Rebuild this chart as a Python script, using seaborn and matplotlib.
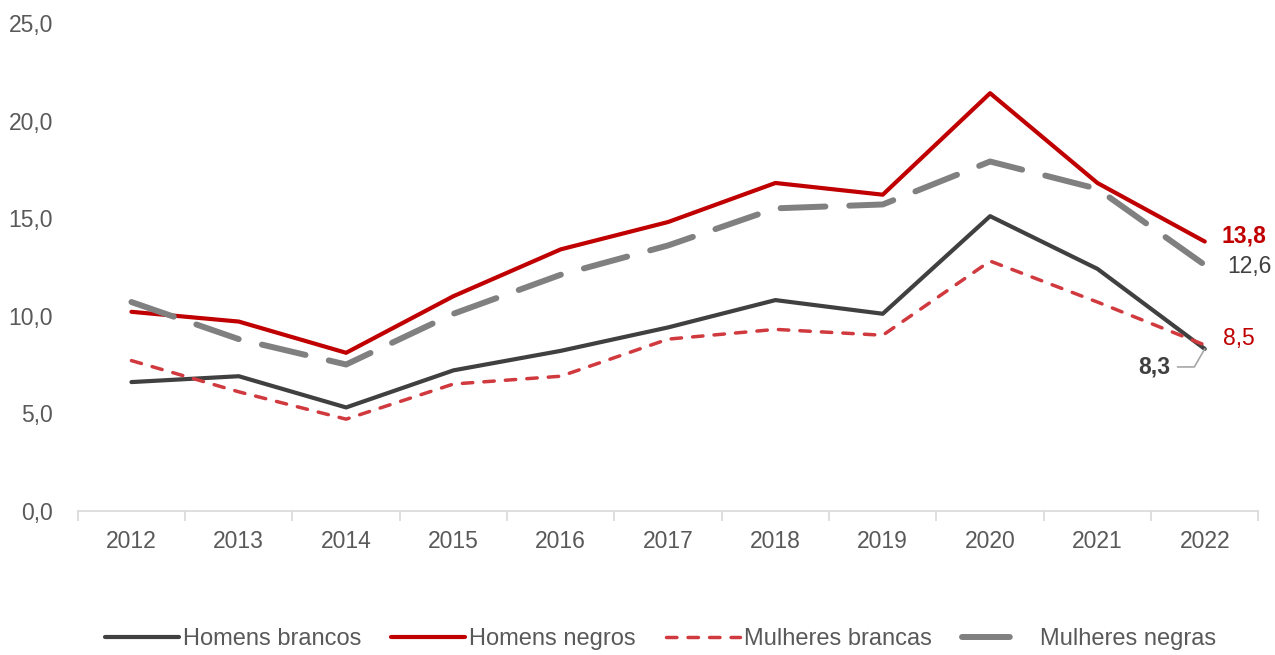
import numpy as np
import pandas as pd
import matplotlib
matplotlib.use("Agg")
import matplotlib.pyplot as plt
import seaborn as sns
from matplotlib.lines import Line2D
from matplotlib.ticker import FixedLocator, FuncFormatter

anos = ["2012", "2013", "2014", "2015", "2016", "2017", "2018", "2019", "2020", "2021", "2022"]
homens_brancos = [6.6, 6.9, 5.3, 7.2, 8.2, 9.4, 10.8, 10.1, 15.1, 12.4, 8.3]
homens_negros = [10.2, 9.7, 8.1, 11.0, 13.4, 14.8, 16.8, 16.2, 21.4, 16.8, 13.8]
mulheres_brancas = [7.7, 6.1, 4.7, 6.5, 6.9, 8.8, 9.3, 9.0, 12.8, 10.7, 8.5]
mulheres_negras = [10.7, 8.8, 7.5, 10.1, 12.1, 13.6, 15.5, 15.7, 17.9, 16.5, 12.6]

sns.set_style("white")
plt.rcParams["font.family"] = ["Liberation Sans", "DejaVu Sans"]

fig = plt.figure(figsize=(12.75, 6.55), dpi=100)
ax = fig.add_axes([0.061, 0.22, 0.926, 0.745])

x = np.arange(len(anos))
series = [
    ("Homens brancos", homens_brancos, "#404040", 3.0, None),
    ("Homens negros", homens_negros, "#C00000", 3.0, None),
    ("Mulheres brancas", mulheres_brancas, "#D0393E", 2.5, (3.0, 3.2)),
    ("Mulheres negras", mulheres_negras, "#808080", 4.3, (7.5, 4.0)),
]
handles = []
for nome, vals, cor, lw, dash in series:
    df = pd.DataFrame({"x": x, "y": vals})
    sns.lineplot(data=df, x="x", y="y", ax=ax, color=cor, linewidth=lw, legend=False)
    ln = ax.get_lines()[-1]
    if dash is not None:
        ln.set_dashes(dash)
    ln.set_solid_capstyle("round")
    ln.set_dash_capstyle("round")
    h = Line2D([], [], color=cor, linewidth=lw, solid_capstyle="round", dash_capstyle="round")
    if dash is not None:
        h.set_dashes(dash if nome != "Mulheres negras" else (8, 20))
    handles.append(h)

ax.set_xlim(-0.5, len(anos) - 0.5)
ax.set_ylim(0, 25)
ax.set_xticks(x)
ax.set_xticklabels(anos)
ax.xaxis.set_minor_locator(FixedLocator(np.arange(-0.5, len(anos), 1)))
ax.tick_params(axis="x", which="major", length=0, pad=14, labelsize=16.5, labelcolor="#595959")
ax.tick_params(axis="x", which="minor", bottom=True, length=7, color="#D9D9D9", width=1.2)
ax.set_yticks(np.arange(0, 26, 5))
ax.yaxis.set_major_formatter(FuncFormatter(lambda v, p: f"{v:.1f}".replace(".", ",")))
ax.tick_params(axis="y", length=0, pad=18, labelsize=16.5, labelcolor="#595959")
for s in ["top", "right", "left"]:
    ax.spines[s].set_visible(False)
ax.spines["bottom"].set_color("#D9D9D9")
ax.spines["bottom"].set_linewidth(1.2)
ax.set_xlabel("")
ax.set_ylabel("")

last = len(anos) - 1
def fmt(v):
    return f"{v:.1f}".replace(".", ",")

ax.annotate(fmt(homens_negros[-1]), (last, homens_negros[-1]), xytext=(12, 4),
            textcoords="offset points", fontsize=16.5, fontweight="bold", color="#C00000",
            va="center", ha="left")
ax.annotate(fmt(mulheres_negras[-1]), (last, mulheres_negras[-1]), xytext=(16, -1),
            textcoords="offset points", fontsize=16.5, color="#404040", va="center", ha="left")
ax.annotate(fmt(mulheres_brancas[-1]), (last, mulheres_brancas[-1]), xytext=(13, 5),
            textcoords="offset points", fontsize=16.5, color="#C00000", va="center", ha="left")
ax.annotate(fmt(homens_brancos[-1]), (last, homens_brancos[-1]), xytext=(-25, -13),
            textcoords="offset points", fontsize=16.5, fontweight="bold", color="#404040",
            va="center", ha="right",
            arrowprops=dict(arrowstyle="-", color="#A6A6A6", lw=1.2,
                            connectionstyle="angle,angleA=0,angleB=60,rad=0",
                            shrinkA=3, shrinkB=0))

fig.legend(handles=handles, labels=[s[0] for s in series], loc="center",
           bbox_to_anchor=(0.518, 0.024), ncol=4, frameon=False, fontsize=17,
           handlelength=3.13, handletextpad=0.17, columnspacing=1.27, labelcolor="#595959")

fig.savefig("out.png", dpi=100)
